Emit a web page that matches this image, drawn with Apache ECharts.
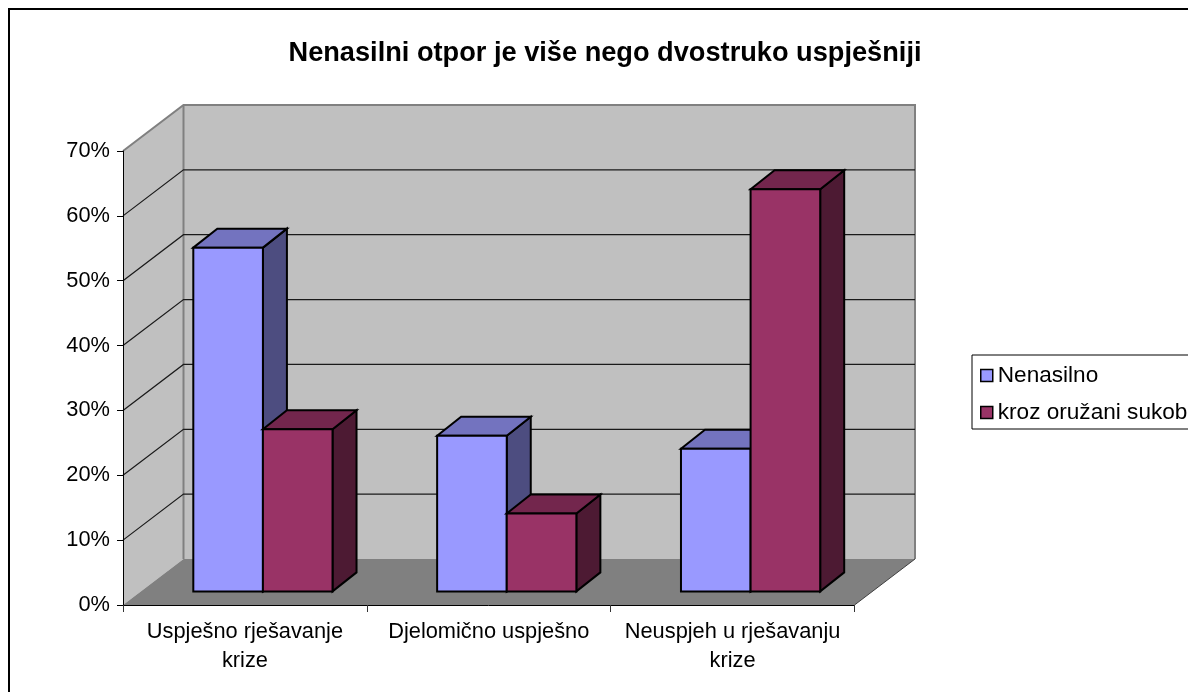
<!DOCTYPE html>
<html>
<head>
<meta charset="utf-8">
<title>Nenasilni otpor</title>
<style>
html, body { margin: 0; padding: 0; background: #fff; overflow: hidden; }
#main { width: 1188px; height: 692px; }
</style>
<script src="https://cdn.jsdelivr.net/npm/echarts@6/dist/echarts.min.js"></script>
</head>
<body>
<div id="main"></div>
<script>
var categories = ['Uspješno rješavanje\nkrize', 'Djelomično uspješno', 'Neuspjeh u rješavanju\nkrize'];
var seriesNames = ['Nenasilno', 'kroz oružani sukob'];
var nenasilno = [53, 24, 22];
var oruzani = [25, 12, 62];
var gridTicks = [10, 20, 30, 40, 50, 60];

var font = '"Liberation Sans", Arial, sans-serif';

// pomak dubine (prednja ravnina -> zadnji zid)
var depthX = 60.5, depthY = -46;
// stupci stoje malo unutra od prednjeg ruba
var barDepthX = 18, barDepthY = -13.6;
var sideX = 24, sideY = -19;
var barFrac = 0.2855;

var blue = { front: '#9999ff', top: '#7373bf', side: '#4d4d80' };
var maroon = { front: '#993366', top: '#73264d', side: '#4d1a33' };

function poly(points, fill, stroke, lw) {
    return {
        type: 'polygon',
        shape: { points: points },
        style: { fill: fill, stroke: stroke || null, lineWidth: lw || 0 }
    };
}

function line(points, stroke, lw) {
    return {
        type: 'polyline',
        shape: { points: points },
        style: { fill: null, stroke: stroke, lineWidth: lw }
    };
}

// zidovi i pod
function renderWalls(params, api) {
    var a = api.coord([0, 0]);
    var top = api.coord([0, 70])[1];
    var w = api.size([1, 0])[0];
    var x0 = a[0] - w / 2, x1 = a[0] + w * 2.5, y0 = a[1];
    var bx0 = x0 + depthX, bx1 = x1 + depthX, by0 = y0 + depthY, by1 = top + depthY;
    return {
        type: 'group',
        children: [
            poly([[bx0, by1], [bx1, by1], [bx1, by0], [bx0, by0]], '#c0c0c0'),
            poly([[x0, top], [bx0, by1], [bx0, by0], [x0, y0]], '#c0c0c0'),
            poly([[x0, y0], [bx0, by0], [bx1, by0], [x1, y0]], '#808080'),
            line([[x0, top], [bx0, by1], [bx1, by1], [bx1, by0]], '#808080', 2),
            line([[bx0, by1], [bx0, by0]], '#808080', 2),
            line([[bx1, by0], [x1, y0]], '#404040', 1)
        ]
    };
}

// linije mreže po lijevom i zadnjem zidu
function renderGrid(params, api) {
    var a = api.coord([0, api.value(0)]);
    var w = api.size([1, 0])[0];
    var x0 = a[0] - w / 2, x1 = a[0] + w * 2.5, y = a[1];
    return line([[x0, y], [x0 + depthX, y + depthY], [x1 + depthX, y + depthY]], '#1a1a1a', 1.2);
}

function renderBar(col, side) {
    return function (params, api) {
        var base = api.coord([api.value(0), 0]);
        var tip = api.coord([api.value(0), api.value(1)]);
        var bw = api.size([1, 0])[0] * barFrac;
        var x0 = base[0] + barDepthX + side * bw, x1 = x0 + bw;
        var y0 = base[1] + barDepthY, y1 = tip[1] + barDepthY;
        return {
            type: 'group',
            children: [
                poly([[x1, y1], [x1 + sideX, y1 + sideY], [x1 + sideX, y0 + sideY], [x1, y0]], col.side, '#000', 2),
                poly([[x0, y1], [x0 + sideX, y1 + sideY], [x1 + sideX, y1 + sideY], [x1, y1]], col.top, '#000', 2),
                poly([[x0, y1], [x1, y1], [x1, y0], [x0, y0]], col.front, '#000', 2)
            ]
        };
    };
}

var chart = echarts.init(document.getElementById('main'));
chart.setOption({
    animation: false,
    backgroundColor: '#fff',
    title: {
        text: 'Nenasilni otpor je više nego dvostruko uspješniji',
        left: 600,
        top: 35,
        textAlign: 'center',
        textStyle: { fontFamily: font, fontSize: 27.2, fontWeight: 'bold', color: '#000' }
    },
    legend: {
        orient: 'vertical',
        left: 972,
        top: 355,
        padding: [9, 6, 5, 8],
        itemWidth: 12,
        itemHeight: 12,
        itemGap: 14,
        borderColor: '#000',
        borderWidth: 1,
        textStyle: { fontFamily: font, fontSize: 22.6, color: '#000' },
        data: [
            { name: seriesNames[0], icon: 'rect', itemStyle: { color: blue.front, borderColor: '#000', borderWidth: 1.5 } },
            { name: seriesNames[1], icon: 'rect', itemStyle: { color: maroon.front, borderColor: '#000', borderWidth: 1.5 } }
        ]
    },
    grid: { left: 123, top: 151, width: 731.5, height: 454 },
    xAxis: {
        type: 'category',
        data: categories,
        axisLine: { lineStyle: { color: '#000', width: 1 } },
        axisTick: { show: true, length: 7, alignWithLabel: false, lineStyle: { color: '#333' } },
        axisLabel: {
            interval: 0,
            margin: 12,
            lineHeight: 29,
            fontFamily: font,
            fontSize: 21.8,
            color: '#000'
        }
    },
    yAxis: {
        type: 'value',
        min: 0,
        max: 70,
        interval: 10,
        axisLine: { show: true, lineStyle: { color: '#000', width: 1 } },
        axisTick: { show: true, length: 6, lineStyle: { color: '#000' } },
        splitLine: { show: false },
        axisLabel: {
            margin: 13,
            fontFamily: font,
            fontSize: 21.8,
            color: '#000',
            formatter: '{value}%'
        }
    },
    graphic: [{
        type: 'rect',
        silent: true,
        shape: { x: 9, y: 9, width: 1400, height: 900 },
        style: { fill: null, stroke: '#000', lineWidth: 2 }
    }],
    series: [
        { type: 'custom', z: 0, silent: true, renderItem: renderWalls, data: [[0]], encode: { x: -1, y: -1 } },
        { type: 'custom', z: 0, silent: true, renderItem: renderGrid, data: gridTicks.map(function (t) { return [t]; }), encode: { x: -1, y: 0 } },
        {
            type: 'custom',
            name: seriesNames[0],
            z: 3,
            itemStyle: { color: blue.front },
            renderItem: renderBar(blue, -1),
            data: nenasilno.map(function (v, i) { return [i, v]; }),
            encode: { x: 0, y: 1 }
        },
        {
            type: 'custom',
            name: seriesNames[1],
            z: 4,
            itemStyle: { color: maroon.front },
            renderItem: renderBar(maroon, 0),
            data: oruzani.map(function (v, i) { return [i, v]; }),
            encode: { x: 0, y: 1 }
        }
    ]
});
</script>
</body>
</html>
